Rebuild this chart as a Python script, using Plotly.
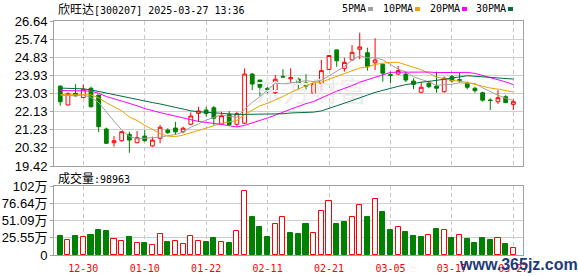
import plotly.graph_objects as go
import pandas as pd

# ---------------- data ----------------
dates = ["12-25", "12-26", "12-27", "12-30", "12-31", "01-02", "01-03", "01-06", "01-07", "01-08",
         "01-09", "01-10", "01-13", "01-14", "01-15", "01-16", "01-17", "01-20", "01-21", "01-22",
         "01-23", "01-24", "01-27", "02-05", "02-06", "02-07", "02-10", "02-11", "02-12", "02-13",
         "02-14", "02-17", "02-18", "02-19", "02-20", "02-21", "02-24", "02-25", "02-26", "02-27",
         "02-28", "03-03", "03-04", "03-05", "03-06", "03-07", "03-10", "03-11", "03-12", "03-13",
         "03-14", "03-17", "03-18", "03-19", "03-20", "03-21", "03-24", "03-25", "03-26", "03-27"]

opens = [23.40, 22.46, 23.04, 22.83, 23.29, 22.95, 21.26, 20.58, 20.68, 21.00,
         20.58, 20.91, 20.42, 20.80, 21.21, 21.31, 21.13, 21.50, 22.04, 22.21,
         22.32, 21.51, 21.98, 21.50, 21.55, 24.00, 23.70, 23.29, 23.07, 23.88,
         23.76, 23.75, 23.55, 23.05, 23.54, 24.23, 25.20, 24.28, 24.70, 25.23,
         25.06, 24.56, 24.48, 23.97, 24.00, 24.00, 23.65, 23.09, 23.54, 23.40,
         23.12, 23.87, 23.72, 23.54, 23.29, 23.07, 22.71, 22.62, 22.87, 22.49]
highs = [23.42, 23.09, 23.50, 23.48, 23.37, 22.97, 21.33, 20.91, 21.16, 21.13,
         21.16, 21.21, 20.88, 21.46, 21.30, 21.62, 21.38, 22.09, 22.37, 22.37,
         22.41, 22.12, 22.16, 22.12, 24.28, 24.04, 23.70, 23.34, 23.95, 24.24,
         24.28, 23.82, 23.99, 23.60, 24.70, 24.95, 25.23, 24.81, 25.44, 26.06,
         25.31, 25.78, 24.53, 24.12, 24.40, 24.08, 23.79, 23.62, 23.67, 24.12,
         23.87, 23.95, 24.07, 23.62, 23.37, 23.12, 22.79, 23.20, 22.95, 22.74]
lows = [22.42, 22.44, 22.87, 22.79, 22.34, 21.10, 20.51, 20.38, 20.63, 20.08,
        20.55, 20.63, 20.38, 20.55, 21.01, 20.97, 21.05, 21.45, 21.62, 21.87,
        21.46, 21.46, 21.41, 21.38, 21.51, 23.20, 22.90, 23.04, 23.00, 23.83,
        23.54, 23.20, 23.20, 23.03, 23.13, 24.20, 24.36, 24.12, 24.66, 24.73,
        24.17, 24.20, 23.62, 23.54, 23.95, 23.60, 23.25, 23.04, 23.29, 23.07,
        23.07, 23.57, 23.57, 23.24, 23.07, 22.62, 22.21, 22.51, 22.54, 22.21]
closes = [22.62, 23.02, 22.92, 23.25, 22.37, 21.38, 20.55, 20.68, 21.13, 20.71,
          20.83, 20.68, 20.71, 21.35, 21.08, 21.12, 21.30, 21.91, 22.16, 22.04,
          21.80, 21.93, 21.48, 22.03, 24.00, 23.50, 23.34, 23.12, 23.74, 23.85,
          23.82, 23.52, 23.40, 23.53, 24.17, 24.92, 24.66, 24.58, 25.08, 25.35,
          24.36, 24.70, 24.04, 23.94, 24.17, 23.70, 23.48, 23.34, 23.37, 23.29,
          23.79, 23.66, 23.69, 23.34, 23.17, 22.70, 22.68, 22.82, 22.58, 22.62]
# volume in 万 (10k)
volumes = [28.5, 22.6, 28.5, 26.5, 30.0, 37.4, 35.9, 23.6, 21.1, 27.0,
           18.2, 18.2, 15.2, 31.5, 18.7, 21.1, 16.7, 28.5, 21.1, 19.7,
           25.6, 19.7, 17.2, 35.9, 94.9, 56.5, 41.8, 27.0, 46.2, 56.5,
           32.0, 31.5, 46.2, 32.5, 64.9, 79.6, 46.2, 49.2, 56.0, 73.7,
           56.5, 82.6, 63.9, 37.4, 40.8, 34.4, 28.5, 26.5, 29.5, 38.8,
           36.9, 25.6, 29.5, 24.1, 18.2, 25.6, 22.6, 25.1, 16.7, 9.8963]

# moving-average values before a full window is available
ma5_lead = [22.95, 22.92, 22.91, 22.96]
ma10_lead = [22.97, 22.97, 22.97, 22.97, 22.96, 22.82, 22.57, 22.37, 22.17]
ma20_lead = [23.18, 23.18, 23.18, 23.17, 23.15, 23.04, 22.88, 22.77, 22.66, 22.54,
             22.42, 22.28, 22.17, 22.08, 21.99, 21.90, 21.80, 21.70, 21.64]
ma30_lead = [23.30, 23.29, 23.28, 23.26, 23.21, 23.13, 23.04, 22.95, 22.88, 22.79,
             22.72, 22.65, 22.58, 22.51, 22.42, 22.32, 22.24, 22.17, 22.12, 22.09,
             22.06, 22.02, 22.01, 21.99, 21.99, 21.99, 22.01, 22.01, 22.01]

price_ticks = [19.42, 20.3225, 21.225, 22.1275, 23.03, 23.9325, 24.835, 25.7375, 26.64]
price_tick_text = ["19.42", "20.32", "21.23", "22.13", "23.03", "23.93", "24.83", "25.74", "26.64"]
vol_ticks = [0, 25.545, 51.09, 76.635, 102.18]
vol_tick_text = ["0", "25.55万", "51.09万", "76.64万", "102万"]
x_label_dates = ["12-30", "01-10", "01-22", "02-11", "02-21", "03-05", "03-17", "03-27"]

stock_name = "欣旺达"
stock_code = "[300207] 2025-03-27 13:36"
vol_label = "成交量"
ma_names = ["5PMA", "10PMA", "20PMA", "30PMA"]
ma_colors = ["#a0a0a0", "#f0a000", "#ff00ff", "#006f3c"]

# ---------------- geometry helpers ----------------
W, H = 578, 276
L, R, T, B = 54, 523, 21, 255


def px_x(px):
    return (px - L) / (R - L)


def px_y(py):
    return (B - py) / (B - T)


RED = "#ff0000"
GREEN = "#008000"
MONO = "DejaVu Sans Mono, Noto Sans CJK SC"
CJK_SPAN = '<span style="font-size:12px;font-family:Noto Sans CJK SC">%s</span>'

x = list(range(len(dates)))
cs = pd.Series(closes)


def ma(n, lead):
    m = cs.rolling(n).mean().round(4).tolist()
    return list(lead) + m[len(lead):]


mas = [ma(5, ma5_lead), ma(10, ma10_lead), ma(20, ma20_lead), ma(30, ma30_lead)]

vol_up = [closes[0] > opens[0]] + [closes[i] > closes[i - 1] for i in range(1, len(closes))]

fig = go.Figure()

# faint watermark under the candles
fig.add_trace(go.Scatter(x=[32.65], y=[22.95], mode="text", text=["东方财富"],
                         textfont=dict(size=28, color="#ededed", family="Noto Sans CJK SC"),
                         hoverinfo="skip", showlegend=False, xaxis="x", yaxis="y"))

fig.add_trace(go.Candlestick(
    x=x, open=opens, high=highs, low=lows, close=closes,
    increasing=dict(line=dict(color=RED, width=1), fillcolor="#ffffff"),
    decreasing=dict(line=dict(color=GREEN, width=1), fillcolor=GREEN),
    whiskerwidth=0, showlegend=False, xaxis="x", yaxis="y", hoverinfo="skip"))

for vals, col in zip(mas, ma_colors):
    fig.add_trace(go.Scatter(x=x, y=vals, mode="lines", line=dict(color=col, width=1),
                             showlegend=False, hoverinfo="skip", xaxis="x", yaxis="y"))

fig.add_trace(go.Bar(
    x=x, y=volumes, width=0.66,
    marker=dict(color=["#ffffff" if u else GREEN for u in vol_up],
                line=dict(color=[RED if u else GREEN for u in vol_up], width=1)),
    showlegend=False, hoverinfo="skip", xaxis="x2", yaxis="y2"))

tick_idx = [dates.index(d) for d in x_label_dates]
xr = [-0.815, 60.26]
axis_common = dict(showline=True, mirror=True, linecolor="#a0a0a0", linewidth=1, zeroline=False,
                   automargin=False)
GRID_DASH = "4px,3px"

fig.update_layout(
    width=W, height=H,
    margin=dict(l=L, r=W - R, t=T, b=H - B, pad=0, autoexpand=False),
    paper_bgcolor="#ffffff", plot_bgcolor="#ffffff",
    showlegend=False, boxgap=0.3, bargap=0,
    xaxis=dict(domain=[0, 1], range=xr, anchor="y", tickvals=tick_idx, showticklabels=False,
               showgrid=True, gridcolor="#c8c8c8", griddash=GRID_DASH, gridwidth=1,
               rangeslider=dict(visible=False), ticks="", **axis_common),
    yaxis=dict(domain=[px_y(166), 1], range=[19.42, 26.64], anchor="x",
               tickvals=price_ticks, ticktext=price_tick_text,
               showgrid=True, gridcolor="#cfcfcf", gridwidth=1,
               ticks="outside", ticklen=3, tickcolor="#a0a0a0",
               tickfont=dict(family="Liberation Sans, Noto Sans CJK SC", size=13, color="#000000"),
               **axis_common),
    xaxis2=dict(domain=[0, 1], range=xr, anchor="y2", tickvals=tick_idx,
                ticktext=x_label_dates, showgrid=True, gridcolor="#c8c8c8", griddash=GRID_DASH,
                gridwidth=1, ticks="outside", ticklen=4, tickcolor="rgba(0,0,0,0)",
                tickfont=dict(family=MONO, size=10, color=RED),
                **axis_common),
    yaxis2=dict(domain=[0, px_y(186)], range=[0, 102.18], anchor="x2",
                tickvals=vol_ticks, ticktext=vol_tick_text,
                showgrid=True, gridcolor="#cfcfcf", gridwidth=1,
                ticks="outside", ticklen=3, tickcolor="#a0a0a0",
                tickfont=dict(family="Liberation Sans, Noto Sans CJK SC", size=13, color="#000000"),
                **axis_common),
)

ann = []
ann.append(dict(x=px_x(56), y=px_y(9), xref="paper", yref="paper", xanchor="left", yanchor="middle",
                text=(CJK_SPAN % stock_name) + stock_code, showarrow=False,
                font=dict(family=MONO, size=10, color="#000000")))
legend_x = [340, 381, 428, 474]
sq_x = [368, 415, 462, 508]
shapes = []
for name, col, lx, sx in zip(ma_names, ma_colors, legend_x, sq_x):
    ann.append(dict(x=px_x(lx), y=px_y(9), xref="paper", yref="paper", xanchor="left", yanchor="middle",
                    text=name, showarrow=False, font=dict(family=MONO, size=10, color="#000000")))
    shapes.append(dict(type="rect", xref="paper", yref="paper", x0=px_x(sx), x1=px_x(sx + 5),
                       y0=px_y(11), y1=px_y(7), fillcolor=col, line=dict(width=0)))
ann.append(dict(x=px_x(56), y=px_y(177), xref="paper", yref="paper", xanchor="left", yanchor="middle",
                text=(CJK_SPAN % vol_label) + ":%d" % round(volumes[-1] * 10000), showarrow=False,
                font=dict(family=MONO, size=10, color="#000000")))
ann.append(dict(x=px_x(457), y=px_y(264), xref="paper", yref="paper", xanchor="left", yanchor="middle",
                text="<b>www.365jz.com</b>", showarrow=False,
                font=dict(family="Liberation Sans", size=16, color="#1d3c78")))
fig.update_layout(annotations=ann, shapes=shapes)

fig.write_html("out.html")
